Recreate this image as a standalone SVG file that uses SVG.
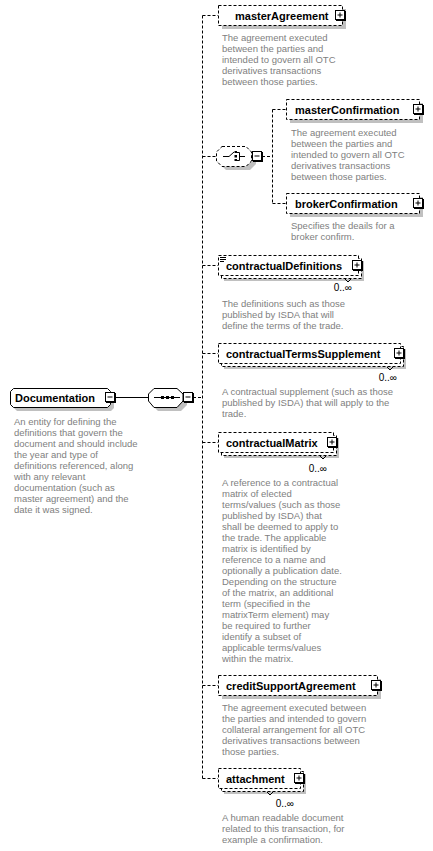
<svg xmlns="http://www.w3.org/2000/svg" width="433" height="851" viewBox="0 0 433 851">
<style>
.bg{fill:#fff}
.shadow{fill:#c0c0c0;stroke:none}
.box{fill:#fff;stroke:#000;stroke-width:1}
.dbox{fill:#fff;stroke:#000;stroke-width:1;stroke-dasharray:3 2}
.lbl{font-family:"Liberation Sans",Arial,sans-serif;font-size:11px;font-weight:bold;fill:#000}
.desc{font-family:"Liberation Sans",Arial,sans-serif;font-size:9.5px;fill:#808080}
.card{font-family:"Liberation Sans",Arial,sans-serif;font-size:10px;fill:#000;text-anchor:end}
.ln{fill:none;stroke:#000;stroke-width:1}
.dln{fill:none;stroke:#000;stroke-width:1;stroke-dasharray:3 2}
.sq{fill:#000}
</style>
<defs>
<g id="plus"><rect x="1" y="1" width="10" height="10" fill="#000"/><rect x="0.5" y="0.5" width="9" height="9" fill="#fff" stroke="#000"/><path d="M2.5 5H7.5M5 2.5V7.5" stroke="#000" fill="none"/></g>
<g id="minus"><rect x="1" y="1" width="10" height="10" fill="#000"/><rect x="0.5" y="0.5" width="9" height="9" fill="#fff" stroke="#000"/><path d="M2.5 5H7.5" stroke="#000" fill="none"/></g>
</defs>
<rect class="bg" x="0" y="0" width="433" height="851"/>

<g id="connectors">
<path class="ln" d="M115 397.5H148"/>
<path class="dln" d="M193 397.5H202.5"/>
<path class="dln" d="M202.5 15.5V778.5"/>
<path class="dln" d="M202.5 15.5H218"/>
<path class="dln" d="M202.5 156.5H216"/>
<path class="dln" d="M202.5 265.5H218"/>
<path class="dln" d="M202.5 353.5H218"/>
<path class="dln" d="M202.5 442.5H218"/>
<path class="dln" d="M202.5 685.5H218"/>
<path class="dln" d="M202.5 778.5H218"/>
<path class="dln" d="M262 156.5H272.5"/>
<path class="dln" d="M272.5 109.5V203.5"/>
<path class="dln" d="M272.5 109.5H286"/>
<path class="dln" d="M272.5 203.5H286"/>
</g>

<g id="Documentation">
<polygon class="shadow" points="17,392 111,392 114,395 114,408 111,411 17,411 14,408 14,395"/>
<polygon class="box" points="13.5,388.5 107.5,388.5 110.5,391.5 110.5,404.5 107.5,407.5 13.5,407.5 10.5,404.5 10.5,391.5"/>
<text class="lbl" x="15" y="402">Documentation</text>
<use href="#minus" x="105" y="392"/>
<text class="desc"><tspan x="14" y="424.5">An entity for defining the</tspan><tspan x="14" dy="11">definitions that govern the</tspan><tspan x="14" dy="11">document and should include</tspan><tspan x="14" dy="11">the year and type of</tspan><tspan x="14" dy="11">definitions referenced, along</tspan><tspan x="14" dy="11">with any relevant</tspan><tspan x="14" dy="11">documentation (such as</tspan><tspan x="14" dy="11">master agreement) and the</tspan><tspan x="14" dy="11">date it was signed.</tspan></text>
</g>

<g id="sequence">
<polygon class="shadow" points="158,392 181,392 187,398 187,405 181,411 158,411 152,405 152,398"/>
<polygon class="box" points="154,388.5 177,388.5 183,394 183,401 177,407.5 154,407.5 148.5,401 148.5,394"/>
<path class="ln" d="M154 397.5H180"/>
<rect class="sq" x="161" y="396" width="3" height="3"/>
<rect class="sq" x="166" y="396" width="3" height="3"/>
<rect class="sq" x="171" y="396" width="3" height="3"/>
<use href="#minus" x="183" y="392"/>
</g>

<g id="choice">
<polygon class="shadow" points="226,150 250,150 256,156 256,164 250,170 226,170 220,164 220,156"/>
<polygon class="dbox" points="222,146.5 246,146.5 251.5,152 251.5,161 246,166.5 222,166.5 216.5,161 216.5,152"/>
<path class="ln" d="M223 156.5H229L234 152"/>
<rect class="sq" x="234.5" y="151" width="2.5" height="2"/>
<rect class="sq" x="234.5" y="155" width="2.5" height="2.5"/>
<rect class="sq" x="234.5" y="159" width="2.5" height="2"/>
<path class="ln" d="M237 152.5H239.5V160.5H237M239.5 156.5H245"/>
<use href="#minus" x="252" y="151"/>
</g>

<g id="masterAgreement">
<rect class="shadow" x="222" y="9" width="124" height="20"/>
<rect class="dbox" x="218.5" y="5.5" width="124" height="20"/>
<text class="lbl" x="235" y="19.5">masterAgreement</text>
<use href="#plus" x="335" y="10"/>
<text class="desc"><tspan x="222" y="40.5">The agreement executed</tspan><tspan x="222" dy="11">between the parties and</tspan><tspan x="222" dy="11">intended to govern all OTC</tspan><tspan x="222" dy="11">derivatives transactions</tspan><tspan x="222" dy="11">between those parties.</tspan></text>
</g>

<g id="masterConfirmation">
<rect class="shadow" x="290" y="103" width="133" height="20"/>
<rect class="dbox" x="286.5" y="99.5" width="133" height="20"/>
<text class="lbl" x="295" y="113.5">masterConfirmation</text>
<use href="#plus" x="413" y="104"/>
<text class="desc"><tspan x="291" y="135.5">The agreement executed</tspan><tspan x="291" dy="11">between the parties and</tspan><tspan x="291" dy="11">intended to govern all OTC</tspan><tspan x="291" dy="11">derivatives transactions</tspan><tspan x="291" dy="11">between those parties.</tspan></text>
</g>

<g id="brokerConfirmation">
<rect class="shadow" x="290" y="197" width="133" height="20"/>
<rect class="dbox" x="286.5" y="193.5" width="133" height="20"/>
<text class="lbl" x="295" y="207.5">brokerConfirmation</text>
<use href="#plus" x="413" y="198"/>
<text class="desc"><tspan x="291" y="228.5">Specifies the deails for a</tspan><tspan x="291" dy="11">broker confirm.</tspan></text>
</g>

<g id="contractualDefinitions">
<rect class="shadow" x="224" y="261" width="140" height="20"/>
<rect class="dbox" x="221.5" y="258.5" width="140" height="20"/>
<rect class="dbox" x="218.5" y="255.5" width="140" height="20"/>
<path class="ln" d="M220 257.5H226M220 259.5H226M220 261.5H224"/>
<text class="lbl" x="226" y="270">contractualDefinitions</text>
<use href="#plus" x="352" y="260"/>
<path class="ln" d="M345 279L348 282L351 279"/>
<text class="card" x="352" y="291">0..∞</text>
<text class="desc"><tspan x="222" y="306.5">The definitions such as those</tspan><tspan x="222" dy="11">published by ISDA that will</tspan><tspan x="222" dy="11">define the terms of the trade.</tspan></text>
</g>

<g id="contractualTermsSupplement">
<rect class="shadow" x="224" y="349" width="182" height="20"/>
<rect class="dbox" x="221.5" y="346.5" width="182" height="20"/>
<rect class="dbox" x="218.5" y="343.5" width="182" height="20"/>
<text class="lbl" x="226" y="357.5">contractualTermsSupplement</text>
<use href="#plus" x="394" y="348"/>
<path class="ln" d="M387 367L390 370L393 367"/>
<text class="card" x="397" y="381">0..∞</text>
<text class="desc"><tspan x="222" y="394.5">A contractual supplement (such as those</tspan><tspan x="222" dy="11">published by ISDA) that will apply to the</tspan><tspan x="222" dy="11">trade.</tspan></text>
</g>

<g id="contractualMatrix">
<rect class="shadow" x="224" y="438" width="115" height="20"/>
<rect class="dbox" x="221.5" y="435.5" width="115" height="20"/>
<rect class="dbox" x="218.5" y="432.5" width="115" height="20"/>
<text class="lbl" x="226" y="446.5">contractualMatrix</text>
<use href="#plus" x="327" y="437"/>
<path class="ln" d="M320 456L323 459L326 456"/>
<text class="card" x="327" y="472">0..∞</text>
<text class="desc"><tspan x="222" y="485.5">A reference to a contractual</tspan><tspan x="222" dy="11">matrix of elected</tspan><tspan x="222" dy="11">terms/values (such as those</tspan><tspan x="222" dy="11">published by ISDA) that</tspan><tspan x="222" dy="11">shall be deemed to apply to</tspan><tspan x="222" dy="11">the trade. The applicable</tspan><tspan x="222" dy="11">matrix is identified by</tspan><tspan x="222" dy="11">reference to a name and</tspan><tspan x="222" dy="11">optionally a publication date.</tspan><tspan x="222" dy="11">Depending on the structure</tspan><tspan x="222" dy="11">of the matrix, an additional</tspan><tspan x="222" dy="11">term (specified in the</tspan><tspan x="222" dy="11">matrixTerm element) may</tspan><tspan x="222" dy="11">be required to further</tspan><tspan x="222" dy="11">identify a subset of</tspan><tspan x="222" dy="11">applicable terms/values</tspan><tspan x="222" dy="11">within the matrix.</tspan></text>
</g>

<g id="creditSupportAgreement">
<rect class="shadow" x="222" y="679" width="159" height="20"/>
<rect class="dbox" x="218.5" y="675.5" width="159" height="20"/>
<text class="lbl" x="226" y="689.5">creditSupportAgreement</text>
<use href="#plus" x="371" y="680"/>
<text class="desc"><tspan x="222" y="710.5">The agreement executed between</tspan><tspan x="222" dy="11">the parties and intended to govern</tspan><tspan x="222" dy="11">collateral arrangement for all OTC</tspan><tspan x="222" dy="11">derivatives transactions between</tspan><tspan x="222" dy="11">those parties.</tspan></text>
</g>

<g id="attachment">
<rect class="shadow" x="224" y="774" width="82" height="20"/>
<rect class="dbox" x="221.5" y="771.5" width="82" height="20"/>
<rect class="dbox" x="218.5" y="768.5" width="82" height="20"/>
<text class="lbl" x="226" y="782.5">attachment</text>
<use href="#plus" x="294" y="773"/>
<path class="ln" d="M267 792L270 795L273 792"/>
<text class="card" x="294" y="807">0..∞</text>
<text class="desc"><tspan x="222" y="820.5">A human readable document</tspan><tspan x="222" dy="11">related to this transaction, for</tspan><tspan x="222" dy="11">example a confirmation.</tspan></text>
</g>
</svg>
